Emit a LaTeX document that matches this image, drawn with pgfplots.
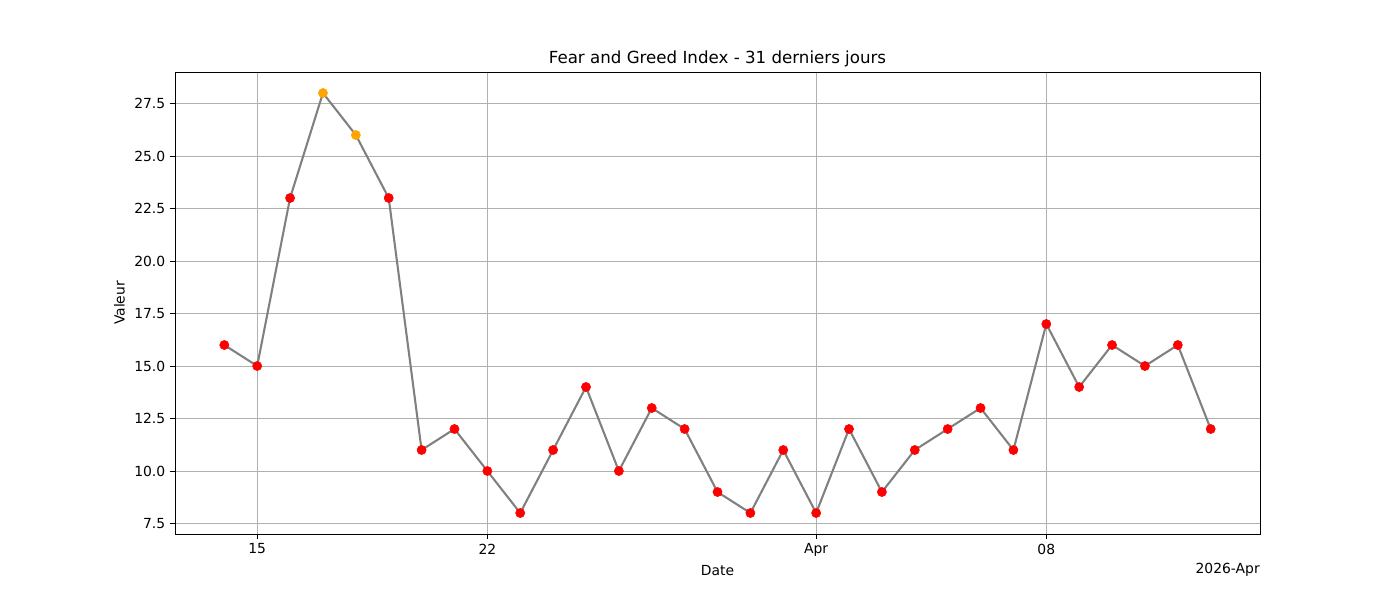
\documentclass[border=0pt]{standalone}
\usepackage{fontspec}
\setmainfont{DejaVu Sans}
\usepackage{pgfplots}
\pgfplotsset{compat=1.18}
\usepackage{pgfplotstable}

% day index: 0 = 2026-03-14
\pgfplotstableread{
x y
0 16
1 15
2 23
5 23
6 11
7 12
8 10
9 8
10 11
11 14
12 10
13 13
14 12
15 9
16 8
17 11
18 8
19 12
20 9
21 11
22 12
23 13
24 11
25 17
26 14
27 16
28 15
29 16
30 12
}\redpts
\pgfplotstableread{
x y
3 28
4 26
}\orangepts
\pgfplotstableread{
x y
0 16
1 15
2 23
3 28
4 26
5 23
6 11
7 12
8 10
9 8
10 11
11 14
12 10
13 13
14 12
15 9
16 8
17 11
18 8
19 12
20 9
21 11
22 12
23 13
24 11
25 17
26 14
27 16
28 15
29 16
30 12
}\alldata

\definecolor{mplorange}{HTML}{FFA500}
\definecolor{mplgrid}{HTML}{B0B0B0}

\begin{document}
\begin{tikzpicture}
\path[use as bounding box] (0,0) rectangle (1008pt,432pt);
\begin{axis}[
  at={(126pt,47.52pt)}, anchor=south west,
  scale only axis, width=781.2pt, height=332.64pt,
  xmin=-1.5, xmax=31.5, ymin=7, ymax=29,
  xtick={1,8,18,25}, xticklabels={15,22,Apr,08},
  ytick={7.5,10,12.5,15,17.5,20,22.5,25,27.5},
  yticklabel style={/pgf/number format/.cd, fixed, fixed zerofill, precision=1},
  /pgf/number format/assume math mode=true,
  tick align=outside, tick pos=left,
  major tick length=3.5pt,
  every tick/.style={black, line width=0.7pt},
  axis line style={line width=0.7pt},
  grid=major, major grid style={mplgrid, line width=0.7pt},
  ticklabel style={font=\fontsize{10}{12}\selectfont},
  title={Fear and Greed Index - 31 derniers jours},
  title style={font=\fontsize{12}{14}\selectfont, yshift=-6pt},
  xlabel={Date}, ylabel={Valeur},
  xlabel style={yshift=1pt},
  label style={font=\fontsize{10}{12}\selectfont},
  clip=false,
]
\addplot[only marks, mark=*, mark size=3.3pt, color=red] table {\redpts};
\addplot[only marks, mark=*, mark size=3.3pt, color=mplorange] table {\orangepts};
\addplot[gray, line width=1.5pt, no marks] table {\alldata};
\node[anchor=north east, inner sep=0pt, font=\fontsize{10}{12}\selectfont] at (rel axis cs:1,0) [yshift=-21pt] {2026-Apr};
\end{axis}
\end{tikzpicture}
\end{document}
